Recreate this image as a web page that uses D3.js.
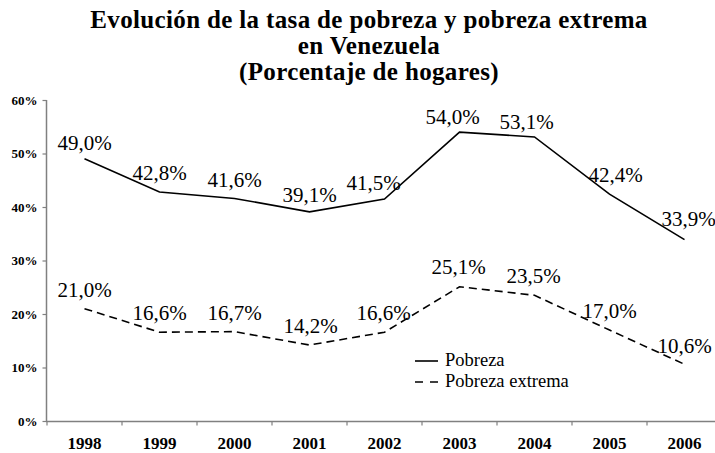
<!DOCTYPE html>
<html>
<head>
<meta charset="utf-8">
<script src="https://cdn.jsdelivr.net/npm/d3@7"></script>
<style>
  body { margin: 0; background: #fff; }
  svg { display: block; }
  text { font-family: "Liberation Serif", Tinos, "Times New Roman", "Noto Serif", "DejaVu Serif", serif; fill: #000; }
</style>
</head>
<body>
<div id="chart"></div>
<script>
// Data
const years = ['1998', '1999', '2000', '2001', '2002', '2003', '2004', '2005', '2006'];
const pobreza = [49.0, 42.8, 41.6, 39.1, 41.5, 54.0, 53.1, 42.4, 33.9];
const pobrezaExtrema = [21.0, 16.6, 16.7, 14.2, 16.6, 25.1, 23.5, 17.0, 10.6];
const yTicks = [0, 10, 20, 30, 40, 50, 60];
const titleLines = [
    'Evolución de la tasa de pobreza y pobreza extrema',
    'en Venezuela',
    '(Porcentaje de hogares)'
];

// small label nudges (px) so labels sit like in the original
const pobrezaNudge = [[0, -9], [0, -12], [0, -11], [0, -10], [-11, -9], [-7, -8], [-8, -8], [6, -12], [4, -14]];
const extremaNudge = [[0, -12], [0, -12], [0, -12], [1, -12], [-1, -12], [-1, -13], [-1, -12], [0, -12], [0, -11]];

const width = 715, height = 453;
const fmt = v => v.toFixed(1).replace('.', ',') + '%';

const svg = d3.select('#chart').append('svg')
    .attr('width', width)
    .attr('height', height);

svg.append('rect').attr('width', width).attr('height', height).attr('fill', '#fff');

// Scales
const x = d3.scaleBand().domain(years).range([47, 722]).padding(0);
const y = d3.scaleLinear().domain([0, 60]).range([421, 100]);
const cx = d => x(d) + x.bandwidth() / 2;

// Title
svg.append('text')
    .attr('text-anchor', 'middle')
    .attr('font-size', 25)
    .attr('font-weight', 'bold')
    .attr('letter-spacing', 0.35)
    .selectAll('tspan')
    .data(titleLines)
    .enter()
    .append('tspan')
    .attr('x', 369)
    .attr('y', (d, i) => 28 + i * 26)
    .text(d => d);

// Y axis
const yAxis = svg.append('g')
    .attr('transform', 'translate(46.5,0)')
    .call(d3.axisLeft(y).tickValues(yTicks).tickSize(4).tickPadding(5).tickFormat(d => d + '%'));
yAxis.select('.domain').attr('stroke', '#808080').attr('stroke-width', 1.5).attr('d', `M0,${y(60)}V${y(0)}`);
yAxis.selectAll('.tick line').attr('stroke', '#808080').attr('stroke-width', 1.2);
yAxis.selectAll('.tick text')
    .attr('font-family', null)
    .attr('font-size', 13)
    .attr('font-weight', 'bold')
    .attr('fill', '#000');

// X axis: line, ticks at category boundaries, labels centered
const xAxis = svg.append('g').attr('transform', `translate(0,${y(0) + 0.5})`);
xAxis.append('line')
    .attr('x1', 46).attr('x2', width)
    .attr('stroke', '#808080').attr('stroke-width', 1.5);
xAxis.selectAll('.xtick')
    .data(years)
    .enter()
    .append('line')
    .attr('x1', d => x(d)).attr('x2', d => x(d))
    .attr('y1', 0).attr('y2', 4)
    .attr('stroke', '#808080').attr('stroke-width', 1.2);
xAxis.selectAll('.xlabel')
    .data(years)
    .enter()
    .append('text')
    .attr('x', d => cx(d))
    .attr('y', 27)
    .attr('text-anchor', 'middle')
    .attr('font-size', 17)
    .attr('font-weight', 'bold')
    .text(d => d);

// Lines
const line = d3.line()
    .x((d, i) => cx(years[i]))
    .y(d => y(d));

svg.append('path')
    .datum(pobreza)
    .attr('d', line)
    .attr('fill', 'none')
    .attr('stroke', '#000')
    .attr('stroke-width', 1.6);

svg.append('path')
    .datum(pobrezaExtrema)
    .attr('d', line)
    .attr('fill', 'none')
    .attr('stroke', '#000')
    .attr('stroke-width', 1.6)
    .attr('stroke-dasharray', '8,5');

// Data labels
function addLabels(values, nudge) {
    svg.append('g')
        .selectAll('text')
        .data(values)
        .enter()
        .append('text')
        .attr('x', (d, i) => cx(years[i]) + nudge[i][0])
        .attr('y', (d, i) => y(d) + nudge[i][1])
        .attr('text-anchor', 'middle')
        .attr('font-size', 21)
        .text(d => fmt(d));
}
addLabels(pobreza, pobrezaNudge);
addLabels(pobrezaExtrema, extremaNudge);

// Legend
const legend = svg.append('g').attr('transform', 'translate(415,361)');
legend.append('line')
    .attr('x1', 0).attr('x2', 23)
    .attr('stroke', '#000').attr('stroke-width', 1.6);
legend.append('line')
    .attr('x1', 0).attr('x2', 23)
    .attr('y1', 21).attr('y2', 21)
    .attr('stroke', '#000').attr('stroke-width', 1.6)
    .attr('stroke-dasharray', '8,7');
legend.append('text').attr('x', 30).attr('y', 5).attr('font-size', 18.5).text('Pobreza');
legend.append('text').attr('x', 30).attr('y', 26).attr('font-size', 18.5).text('Pobreza extrema');
</script>
</body>
</html>
